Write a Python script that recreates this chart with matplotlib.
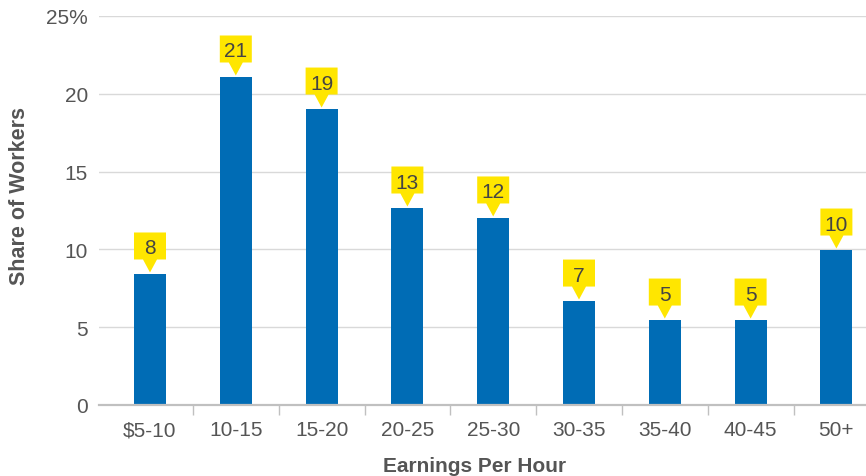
import matplotlib
matplotlib.use("Agg")
import matplotlib.pyplot as plt
from matplotlib.patches import Polygon
from matplotlib.transforms import IdentityTransform

categories = ["$5-10", "10-15", "15-20", "20-25", "25-30", "30-35", "35-40", "40-45", "50+"]
values = [8.42, 21.08, 19.02, 12.66, 12.02, 6.68, 5.46, 5.46, 9.96]
y_ticks = [0, 5, 10, 15, 20, 25]
y_tick_labels = ["0", "5", "10", "15", "20", "25%"]

BAR = "#006CB5"
YELLOW = "#FFE600"
GRID = "#d9d9d9"
AXIS = "#c0c0c0"
TXT = "#555555"

plt.rcParams['font.family'] = ['Liberation Sans', 'DejaVu Sans']

W, H = 866, 477
FS = 15
fig = plt.figure(figsize=(W / 100, H / 100), dpi=100)
ax = fig.add_axes([99 / W, 71 / H, (866 - 99) / W, (406 - 17) / H])

x = list(range(len(categories)))
ax.bar(x, values, width=0.373, color=BAR, zorder=3)

step = 85.8
ax.set_xlim((99 - 150) / step, (866 - 150) / step)
ax.set_ylim(0, 25)
ax.set_yticks(y_ticks)
ax.set_yticklabels(y_tick_labels, fontsize=FS, color=TXT)
ax.tick_params(axis='y', length=0, pad=8)
ax.grid(axis='y', color=GRID, linewidth=1.0, zorder=0)
ax.set_axisbelow(True)

ax.set_xticks([i + 0.5 for i in range(len(categories) - 1)])
ax.set_xticklabels([])
ax.set_xticks(x, minor=True)
ax.set_xticklabels(categories, minor=True, fontsize=FS, color=TXT)
ax.tick_params(axis='x', which='major', length=7, width=1, color=AXIS, direction='out')
ax.tick_params(axis='x', which='minor', length=0, pad=11)

for s in ['top', 'right', 'left']:
    ax.spines[s].set_visible(False)
ax.spines['bottom'].set_color(AXIS)
ax.spines['bottom'].set_linewidth(1.6)
ax.spines['bottom'].set_zorder(4)

fig.text(475 / W, 5 / H, "Earnings Per Hour", ha='center', va='baseline',
         fontsize=FS, fontweight='bold', color=TXT)
fig.text(20 / W, 1 - 196 / H, "Share of Workers", ha='center', va='center',
         rotation=90, fontsize=FS + 0.5, fontweight='bold', color=TXT)

# data labels (yellow callouts)
fig.canvas.draw()
for i, v in enumerate(values):
    px, py = ax.transData.transform((i, v))
    tip = py + 1.5
    tri_h = 13
    box_h = 27
    box_w = 32
    tri_w = 14
    pts = [
        (px, tip),
        (px + tri_w / 2, tip + tri_h),
        (px + box_w / 2, tip + tri_h),
        (px + box_w / 2, tip + tri_h + box_h),
        (px - box_w / 2, tip + tri_h + box_h),
        (px - box_w / 2, tip + tri_h),
        (px - tri_w / 2, tip + tri_h),
    ]
    poly = Polygon(pts, closed=True, facecolor=YELLOW, edgecolor='none',
                   transform=IdentityTransform(), zorder=5)
    fig.patches.append(poly)
    fig.text(px / W, (tip + tri_h + box_h / 2) / H, f"{round(v)}", ha='center',
             va='center_baseline', fontsize=FS, color="#444444", zorder=6)

fig.savefig("out.png", dpi=100)
